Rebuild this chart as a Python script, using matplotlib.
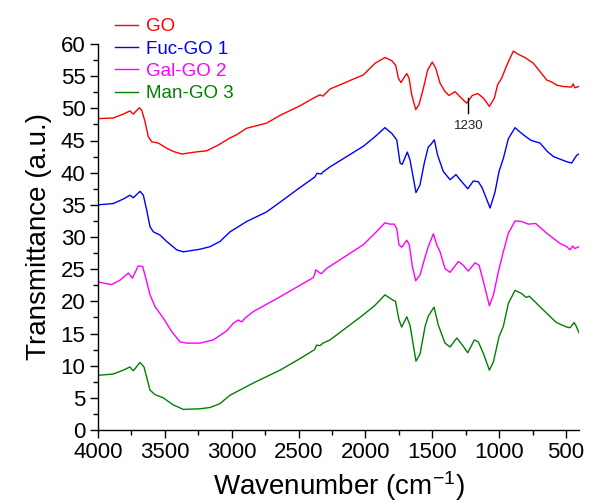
import matplotlib
matplotlib.use("Agg")
import matplotlib.pyplot as plt
from matplotlib.ticker import MultipleLocator

plt.rcParams['font.family'] = ['Liberation Sans', 'DejaVu Sans']
plt.rcParams['mathtext.fontset'] = 'custom'
plt.rcParams['mathtext.rm'] = 'Liberation Sans'
plt.rcParams['mathtext.it'] = 'Liberation Sans'

go_wn = [4000, 3886, 3811, 3761, 3736, 3691, 3673, 3648, 3624, 3598, 3549, 3486, 3437, 3374,
         3275, 3187, 3100, 3013, 2963, 2889, 2739, 2639, 2489, 2379, 2340, 2318, 2265, 2016,
         1928, 1854, 1803, 1774, 1754, 1734, 1714, 1691, 1674, 1654, 1624, 1599, 1567, 1534,
         1500, 1474, 1442, 1405, 1375, 1330, 1293, 1243, 1201, 1160, 1118, 1073, 1036, 1011,
         981, 943, 894, 857, 807, 744, 694, 644, 607, 569, 522, 460, 447, 435, 403]
go_t = [48.4, 48.5, 49.1, 49.6, 49.1, 50.1, 49.7, 47.9, 45.6, 44.8, 44.6, 43.8, 43.3, 42.9,
        43.2, 43.4, 44.3, 45.4, 45.9, 46.9, 47.7, 48.9, 50.4, 51.7, 52.1, 51.9, 53.0, 55.2,
        57.0, 57.9, 57.4, 56.7, 54.7, 54.0, 54.7, 55.4, 54.7, 52.1, 49.8, 50.6, 53.1, 56.0,
        57.2, 56.2, 53.9, 52.6, 52.0, 52.6, 51.8, 50.8, 52.0, 52.3, 51.6, 50.3, 51.6, 53.7,
        54.7, 56.7, 58.9, 58.4, 57.9, 57.0, 55.7, 54.4, 54.1, 53.6, 53.4, 53.3, 53.8, 53.2, 53.4]

fuc_wn = [4000, 3886, 3811, 3761, 3736, 3686, 3661, 3636, 3611, 3586, 3536, 3486, 3411, 3362,
          3237, 3162, 3088, 3013, 2889, 2739, 2639, 2489, 2380, 2362, 2330, 2318, 2265, 2016,
          1928, 1854, 1803, 1766, 1741, 1725, 1687, 1667, 1622, 1592, 1560, 1530, 1510, 1485,
          1460, 1418, 1367, 1323, 1280, 1235, 1193, 1156, 1126, 1068, 1031, 1001, 969, 931,
          881, 844, 807, 760, 694, 640, 594, 495, 458, 420, 403]
fuc_t = [35.0, 35.2, 35.9, 36.5, 36.1, 37.1, 36.5, 34.2, 31.6, 30.8, 30.3, 29.3, 28.0, 27.7,
         28.1, 28.5, 29.3, 30.8, 32.4, 33.9, 35.4, 37.7, 39.3, 39.9, 39.8, 40.1, 40.9, 44.1,
         45.6, 47.0, 46.1, 45.1, 41.5, 41.3, 43.2, 42.0, 36.9, 38.1, 41.5, 44.0, 44.4, 45.1,
         42.7, 40.2, 38.9, 39.7, 38.6, 37.5, 38.7, 38.6, 37.6, 34.5, 37.0, 40.2, 42.2, 45.3,
         47.0, 46.3, 45.7, 45.0, 44.6, 43.3, 42.5, 41.7, 41.5, 42.7, 42.9]

gal_wn = [4000, 3898, 3835, 3773, 3743, 3699, 3666, 3636, 3611, 3574, 3512, 3449, 3387, 3337,
          3237, 3138, 3038, 2988, 2951, 2925, 2900, 2839, 2639, 2489, 2389, 2370, 2340, 2330,
          2291, 2016, 1928, 1854, 1817, 1784, 1766, 1749, 1729, 1691, 1672, 1649, 1624, 1592,
          1554, 1530, 1492, 1467, 1442, 1405, 1367, 1305, 1268, 1231, 1180, 1150, 1118, 1073,
          1043, 1006, 969, 931, 881, 831, 782, 727, 645, 545, 495, 470, 450, 435, 403]
gal_t = [23.0, 22.6, 23.3, 24.4, 23.6, 25.5, 25.4, 23.1, 21.0, 19.2, 17.4, 15.3, 13.7, 13.5,
         13.5, 14.0, 15.4, 16.6, 17.1, 16.8, 17.4, 18.4, 20.7, 22.5, 23.7, 24.9, 24.4, 24.3,
         25.1, 28.8, 30.6, 32.2, 32.0, 32.0, 31.3, 28.8, 28.4, 29.5, 28.8, 25.4, 23.2, 24.1,
         26.9, 28.5, 30.5, 28.8, 27.7, 25.1, 24.5, 26.2, 25.6, 24.7, 26.0, 25.6, 23.1, 19.3,
         21.0, 24.6, 27.7, 30.6, 32.5, 32.4, 32.0, 32.1, 30.6, 29.0, 28.5, 28.0, 28.6, 28.2, 28.5]

man_wn = [4000, 3886, 3811, 3761, 3736, 3686, 3656, 3631, 3611, 3574, 3512, 3437, 3362, 3237,
          3162, 3088, 3013, 2839, 2739, 2639, 2489, 2380, 2365, 2340, 2318, 2265, 2016, 1928,
          1854, 1803, 1775, 1749, 1729, 1691, 1667, 1622, 1592, 1554, 1530, 1487, 1455, 1405,
          1367, 1317, 1275, 1235, 1186, 1156, 1118, 1073, 1043, 1001, 969, 931, 881, 831, 799,
          775, 672, 572, 495, 470, 440, 425, 403]
man_t = [8.5, 8.7, 9.3, 9.8, 9.2, 10.5, 9.8, 7.8, 6.2, 5.5, 5.0, 3.9, 3.2, 3.3,
         3.5, 4.1, 5.4, 7.3, 8.3, 9.3, 11.1, 12.5, 13.2, 13.1, 13.5, 14.0, 17.9, 19.4,
         21.0, 20.3, 20.0, 17.1, 16.0, 17.6, 16.3, 10.7, 11.8, 16.1, 17.7, 19.1, 16.3, 13.5,
         12.9, 14.3, 13.2, 12.0, 14.0, 13.7, 11.9, 9.3, 10.6, 14.5, 16.1, 19.7, 21.7, 21.2, 20.6,
         20.8, 18.7, 16.7, 16.0, 15.9, 16.7, 16.2, 15.1]

labels = ['GO', 'Fuc-GO 1', 'Gal-GO 2', 'Man-GO 3']
colors = ['#ff0000', '#0000ff', '#ff00ff', '#008000']

peak_pos = 1230
peak_lo, peak_hi = 49.3, 51.6
peak_text_y = 47.2

fig = plt.figure(figsize=(5.9, 5.03), dpi=100)
ax = fig.add_axes([98 / 590, 1 - 430 / 503, (579.4 - 98) / 590, (430 - 44) / 503])

series = [(go_wn, go_t), (fuc_wn, fuc_t), (gal_wn, gal_t), (man_wn, man_t)]
handles = []
for (wn, t), lab, c in zip(series, labels, colors):
    h, = ax.plot(wn, t, color=c, lw=1.0, label=lab)
    handles.append(h)

ax.plot([peak_pos, peak_pos], [peak_lo, peak_hi], color='k', lw=1.0)
ax.text(peak_pos, peak_text_y, str(peak_pos), ha='center', va='center', fontsize=9.5, color='#222222')

ax.set_xlim(4000, 400)
ax.set_ylim(0, 60)
ax.xaxis.set_major_locator(MultipleLocator(500))
ax.xaxis.set_minor_locator(MultipleLocator(250))
ax.yaxis.set_major_locator(MultipleLocator(5))
ax.yaxis.set_minor_locator(MultipleLocator(2.5))
ax.tick_params(which='major', direction='out', length=6, width=1, labelsize=16, pad=3)
ax.tick_params(which='minor', direction='out', length=3.5, width=1)
for s in ['top', 'right']:
    ax.spines[s].set_visible(False)
for s in ['left', 'bottom']:
    ax.spines[s].set_linewidth(1)

ax.set_xlabel('Wavenumber (cm$^{-1}$)', fontsize=20, labelpad=4)
ax.set_ylabel('Transmittance (a.u.)', fontsize=20, labelpad=6)

fig.legend(handles=handles, loc='upper left', bbox_to_anchor=(115 / 590, 1 - 18 / 503),
           frameon=False, fontsize=13.5, handlelength=1.2, handletextpad=0.45,
           labelspacing=0.28, borderpad=0, borderaxespad=0, labelcolor='linecolor')

fig.savefig('out.png', dpi=100)
